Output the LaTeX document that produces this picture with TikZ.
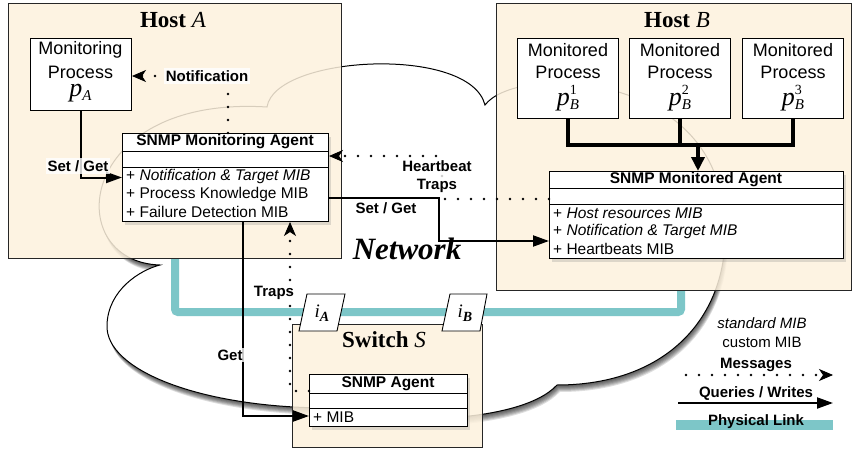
\documentclass[tikz,border=0pt]{standalone}
\usepackage{fontspec}
\setmainfont{Liberation Sans}
\newfontfamily\serif{Liberation Serif}
\usetikzlibrary{arrows.meta,shadows,calc}
\definecolor{beige}{RGB}{253,241,221}
\definecolor{linkteal}{RGB}{125,198,200}
\newcommand{\pvar}[2]{{\serif\itshape\fontsize{26}{26}\selectfont p}\makebox[0pt][l]{\raisebox{11pt}{\serif\fontsize{14}{14}\selectfont #2}}\raisebox{-4pt}{\serif\itshape\fontsize{15}{15}\selectfont #1}}
\newcommand{\ivar}[1]{{\serif\itshape\fontsize{19}{19}\selectfont i}\raisebox{-4pt}{\serif\bfseries\itshape\fontsize{14}{14}\selectfont #1}}
\def\cloudpath{(160,265) .. controls (60,262) and (75,95) .. (267,107)
 .. controls (275,55) and (470,45) .. (485,105)
 .. controls (515,65) and (700,70) .. (722,200)
 .. controls (740,300) and (680,385) .. (557,385)
 .. controls (520,425) and (380,425) .. (330,408)
 .. controls (200,408) and (105,370) .. (107,325)
 .. controls (108,290) and (140,270) .. (160,265) -- cycle}
\tikzset{
 hostbox/.style={draw=black!85, line width=0.9pt, fill=beige, fill opacity=0.85, draw opacity=1, text opacity=1, inner sep=0pt, anchor=north west},
 procbox/.style={draw, line width=1pt, fill=white, inner sep=0pt, anchor=north west},
 ptext/.style={font=\fontsize{18}{22}\selectfont, inner sep=0pt},
 agentbox/.style={draw, line width=1pt, fill=white, inner sep=0pt, anchor=north west, drop shadow={shadow xshift=2pt, shadow yshift=-3pt, opacity=0.25}},
 title/.style={font=\serif\bfseries\fontsize{23}{23}\selectfont},
 hdr/.style={font=\bfseries\fontsize{15.5}{18}\selectfont},
 row/.style={anchor=west, inner sep=0pt, font=\fontsize{15.5}{18}\selectfont},
 lbl/.style={font=\bfseries\fontsize{15}{18}\selectfont, fill=white, fill opacity=0.8, text opacity=1, inner sep=2pt},
 msg/.style={line width=2.8pt, dash pattern=on 0pt off 13pt, line cap=round, -{Stealth[length=14pt,width=12pt,inset=4pt,line width=0.8pt]}},
 qry/.style={line width=2pt, -{Triangle[length=16pt,width=11pt]}},
 thk/.style={line width=4.5pt},
 phys/.style={line width=8pt, draw=linkteal, rounded corners=3pt}
}
\begin{document}
\begin{tikzpicture}[x=1pt,y=-1pt, font=\fontsize{15.5}{18}\selectfont]
\useasboundingbox (0,0) rectangle (857,450);
% cloud
\foreach \s in {1,...,7}{\fill[black, opacity=0.13, shift={(0.4*\s,\s)}] \cloudpath;}
\fill[white] \cloudpath;
\draw[line width=1pt] \cloudpath;
% physical link
\draw[phys] (175,258) -- (175,312) -- (681,312) -- (681,290);
% hosts
\node[hostbox, minimum width=333pt, minimum height=255pt] (hostA) at (8,3) {};
\node[hostbox, minimum width=355pt, minimum height=287pt] (hostB) at (496,3) {};
\node[hostbox, minimum width=190pt, minimum height=123pt] (sw) at (292,324) {};
\node[title] (tA) at (173,20) {Host {\mdseries\itshape A}};
\node[title] (tB) at (677,20) {Host {\mdseries\itshape B}};
\node[title] (tS) at (384,340) {Switch {\mdseries\itshape S}};
% interface tabs
\draw[fill=white, line width=0.9pt] (299,331) -- (307,294) -- (345,294) -- (337,331) -- cycle;
\node (iA) at (322,313) {\ivar{A}};
\draw[fill=white, line width=0.9pt] (442,331) -- (450,294) -- (487,294) -- (480,331) -- cycle;
\node (iB) at (465,313) {\ivar{B}};
% network label
\node[font=\serif\bfseries\itshape\fontsize{31}{31}\selectfont] (net) at (407,249) {Network};
% processes
\node[procbox, minimum width=101pt, minimum height=72pt] (mp) at (30,38) {};
\node[ptext] at (80.5,50) {Monitoring};
\node[ptext] at (80.5,72) {Process};
\node[ptext] at (80.5,93) {\pvar{A}{}};
\foreach \n/\x/\k in {pb1/517/1, pb2/629/2, pb3/742/3}{
 \node[procbox, minimum width=101pt, minimum height=80pt] (\n) at (\x,38) {};
 \node[ptext] at ($(\n.north)+(0,12)$) {Monitored};
 \node[ptext] at ($(\n.north)+(0,34)$) {Process};
 \node[ptext] at ($(\n.north)+(0,60)$) {\pvar{B}{\k}};
}
% monitoring agent
\node[agentbox, minimum width=206pt, minimum height=88pt] (mga) at (122,133) {};
\draw[line width=1pt] (122,151) -- (328,151) (122,167) -- (328,167);
\node[hdr] at (225,142) {SNMP Monitoring Agent};
\node[row] at (126,176) {+ \textit{Notification \& Target MIB}};
\node[row] at (126,194) {+ Process Knowledge MIB};
\node[row] at (126,212) {+ Failure Detection MIB};
% monitored agent
\node[agentbox, minimum width=294pt, minimum height=87pt] (mda) at (549,171) {};
\draw[line width=1pt] (549,188) -- (843,188) (549,204) -- (843,204);
\node[hdr] at (696,180) {SNMP Monitored Agent};
\node[row] at (553,213) {+ \textit{Host resources MIB}};
\node[row] at (553,231) {+ \textit{Notification \& Target MIB}};
\node[row] at (553,249) {+ Heartbeats MIB};
% switch agent
\node[agentbox, minimum width=158pt, minimum height=52pt] (sa) at (309,374) {};
\draw[line width=1pt] (309,393) -- (467,393) (309,408) -- (467,408);
\node[hdr] at (388,383.5) {SNMP Agent};
\node[row] at (313,417) {+ MIB};
% thick connectors in host B
\draw[thk] (pb1.south) -- (pb1.south |- 0,145) -- (pb3.south |- 0,145) -- (pb3.south);
\draw[thk] (pb2.south) -- (pb2.south |- 0,145);
\draw[thk, -{Triangle[length=14pt,width=13pt]}] (698,145) -- (mda.north -| 698,0);
% messages and queries
\draw[msg] (mga.north -| 228,0) -- (228,76) -- (mp.east |- 0,76);
\draw[qry] (mp.south) |- (mga.west);
\draw[msg] (mda.west |- 0,199) -- (442,199) -- (442,156) -- (mga.east |- 0,156);
\draw[qry] (mga.east |- 0,198) -- (439,198) -- (439,241) -- (mda.west |- 0,241);
\draw[qry] (mga.south -| 243,0) |- (sa.west |- 0,416);
\draw[msg] (sa.west |- 0,391) -| (mga.south -| 290,0);
% labels
\node[lbl] (ln) at (207,76) {Notification};
\node[lbl] (lsg1) at (78,166) {Set / Get};
\node[lbl, align=center] (lhb) at (437,177) {Heartbeat\\Traps};
\node[lbl, fill=none] (lsg2) at (386,208) {Set / Get};
\node[lbl] (lget) at (230,355) {Get};
\node[lbl] (ltr) at (274,293) {Traps};
% legend
\node[font=\itshape\fontsize{15}{18}\selectfont] (lstd) at (762,323) {standard MIB};
\node[font=\fontsize{15}{18}\selectfont] (lcus) at (762,342) {custom MIB};
\node[lbl, fill=none] (lmsg) at (756,365) {Messages};
\coordinate (m1) at (686,375); \coordinate (m2) at (833,375);
\draw[msg] (m1) -- (m2);
\node[lbl, fill=none] (lqw) at (756,394) {Queries / Writes};
\coordinate (q1) at (678,403); \coordinate (q2) at (833,403);
\draw[qry] (q1) -- (q2);
\coordinate (t1) at (676,425); \coordinate (t2) at (833,425);
\draw[line width=10pt, draw=linkteal] (t1) -- (t2);
\node[lbl, fill=none] (lpl) at (756,422) {Physical Link};
\end{tikzpicture}
\end{document}
